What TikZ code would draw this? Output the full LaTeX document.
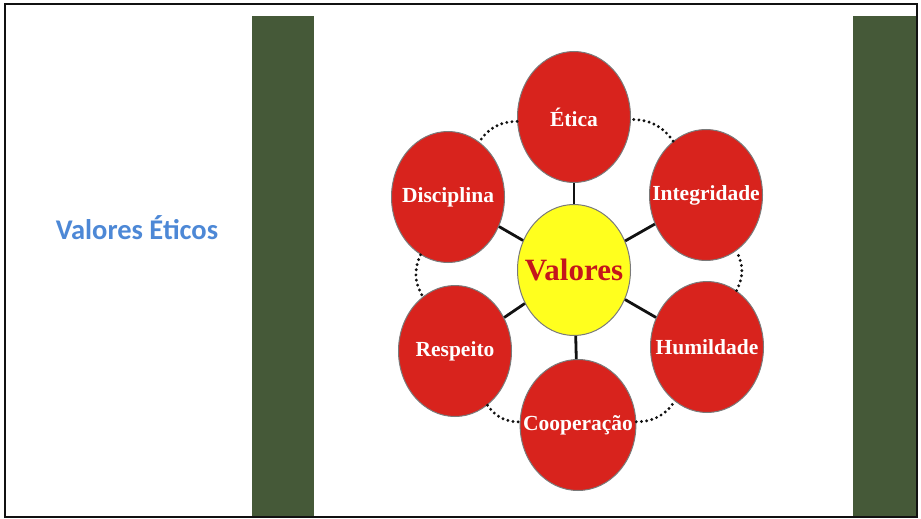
\documentclass[tikz,border=0pt]{standalone}
\usepackage{fontspec}
\setmainfont{Liberation Serif}
\newfontfamily\titlefont{Carlito}
\usetikzlibrary{shapes.geometric}
\definecolor{ink}{HTML}{111111}
\definecolor{bargreen}{HTML}{455938}
\definecolor{titleblue}{HTML}{4D88D6}
\definecolor{valred}{HTML}{D8231D}
\definecolor{valdark}{HTML}{C4161C}
\definecolor{valyellow}{HTML}{FFFF1E}
\definecolor{rimgray}{HTML}{7A7A7A}

\begin{document}
\begin{tikzpicture}[
  x=1pt, y=-1pt,
  value/.style={
    ellipse, draw=rimgray, line width=1pt,
    fill=valred, text=white, inner xsep=-14pt, inner ysep=0pt,
    minimum width=113pt, minimum height=131pt,
    font=\bfseries\fontsize{21.5}{24}\selectfont
  },
  core/.style={
    value, fill=valyellow, text=valdark,
    font=\bfseries\fontsize{31}{34}\selectfont
  },
  spoke/.style={draw=ink, line width=2.8pt},
  ring/.style={draw=ink, line width=3.2pt, line cap=round, dash pattern=on 0pt off 5.2pt}
]
\useasboundingbox (0,0) rectangle (921,519);

% --- SLIDE FRAME ---
\fill[bargreen] (252,16) rectangle (314,517);
\fill[bargreen] (853,16) rectangle (917,517);
\draw[ink, line width=2pt] (5,4) rectangle (917,517);

% Title
\node[font=\titlefont\bfseries\fontsize{28.5}{34}\selectfont, text=titleblue] (title) at (137,228) {Valores Éticos};

% --- VALUE WHEEL ---
\node[core] (valores) at (574,270) {Valores};

\node[value] (etica)      at (574,117) {Ética};
\node[value] (integ)      at (706,195) {Integridade};
\node[value] (humil)      at (707,347) {Humildade};
\node[value] (coop)       at (578,425) {Cooperação};
\node[value] (respeito)   at (455,351) {Respeito};
\node[value] (disc)       at (448,197) {Disciplina};

% spokes from the centre
\foreach \n in {etica,integ,humil,coop,respeito,disc} {
  \draw[spoke] (valores) -- (\n);
}

% dotted ring between neighbours
\draw[ring] (etica) to[bend right=28] (disc);
\draw[ring] (disc) to[bend right=28] (respeito);
\draw[ring] (respeito) to[bend right=28] (coop);
\draw[ring] (coop) to[bend right=28] (humil);
\draw[ring] (humil) to[bend right=28] (integ);
\draw[ring] (integ) to[bend right=28] (etica);

\end{tikzpicture}
\end{document}
